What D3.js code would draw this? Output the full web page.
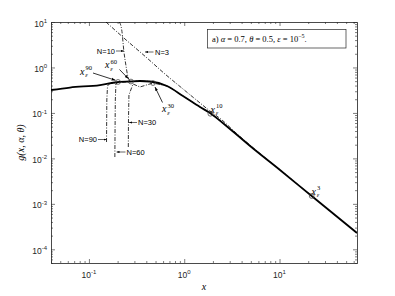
<!DOCTYPE html>
<html>
<head>
<meta charset="utf-8">
<script src="https://cdn.jsdelivr.net/npm/d3@7"></script>
<style>
  body { margin: 0; background: #fff; }
  svg { display: block; }
  .tick text { display: none; }
  .domain { stroke: #262626; stroke-width: 0.6; }
  .tick line { stroke: #262626; stroke-width: 0.6; }
</style>
</head>
<body>
<div id="chart"></div>
<script>
// exact g(x, alpha, theta)
const gX = [0.04, 0.0633, 0.1306, 0.1877, 0.270, 0.343, 0.437, 0.659, 0.970, 1.464, 1.863, 3.02, 5.53, 10.11, 21.75, 65];
const gY = [0.319, 0.362, 0.411, 0.467, 0.491, 0.504, 0.491, 0.391, 0.236, 0.135, 0.0996, 0.0443, 0.01528, 0.00555, 0.001486, 0.000229];

// truncated series with N terms
const n3X = [0.151, 0.239, 0.407, 0.628, 0.903, 1.362, 1.863, 2.49, 3.41, 5.53, 10.11, 21.75, 65];
const n3Y = [10, 4.23, 1.615, 0.718, 0.381, 0.1875, 0.110, 0.0699, 0.038, 0.0158, 0.00562, 0.001486, 0.000229];
const n10X = [0.2084, 0.221, 0.233, 0.245, 0.257, 0.276, 0.343, 0.437, 0.659, 0.970, 1.464, 1.863, 3.02];
const n10Y = [10, 6.67, 2.22, 1.077, 0.617, 0.49, 0.504, 0.491, 0.391, 0.236, 0.135, 0.0996, 0.0443];
const n30X = [0.259, 0.260, 0.263, 0.290, 0.343, 0.470, 0.659];
const n30Y = [0.0178, 0.0699, 0.248, 0.433, 0.372, 0.455, 0.391];
const n60X = [0.1871, 0.188, 0.1892, 0.192, 0.202, 0.276, 0.343];
const n60Y = [0.01072, 0.0421, 0.192, 0.433, 0.475, 0.49, 0.504];
const n90X = [0.153, 0.1541, 0.1567, 0.165, 0.202, 0.276];
const n90Y = [0.0229, 0.192, 0.391, 0.44, 0.475, 0.49];

// x_eps^N markers
const epsN = ['90', '60', '30', '10', '3'];
const epsX = [0.202, 0.276, 0.470, 1.88, 21.75];
const epsY = [0.48, 0.49, 0.455, 0.096, 0.00149];

const xMajor = [0.1, 1, 10];
const xMajorExp = ['-1', '0', '1'];
const yMajor = [1e-4, 1e-3, 1e-2, 1e-1, 1, 10];
const yMajorExp = ['-4', '-3', '-2', '-1', '0', '1'];

const width = 395, height = 296;
const margin = {top: 22, right: 38, bottom: 33, left: 51};

const svg = d3.select('#chart').append('svg')
  .attr('width', width)
  .attr('height', height);

const x = d3.scaleLog().domain([0.04, 65]).range([margin.left, width - margin.right]);
const y = d3.scaleLog().domain([5e-5, 10]).range([height - margin.bottom, margin.top]);

function minors(lo, hi) {
  const out = [];
  for (let e = Math.floor(Math.log10(lo)); e <= Math.ceil(Math.log10(hi)); e++) {
    for (let k = 2; k <= 9; k++) {
      const v = k * Math.pow(10, e);
      if (v >= lo * 0.999 && v <= hi * 1.001) out.push(v);
    }
  }
  return out;
}
const xMinor = minors(0.04, 65);
const yMinor = minors(5e-5, 10);

const x0 = margin.left, x1 = width - margin.right;
const y0 = height - margin.bottom, y1 = margin.top;

// axes, ticks inward on all four sides
svg.append('g').attr('transform', `translate(0,${y0})`)
  .call(d3.axisBottom(x).tickValues(xMajor).tickSize(-4).tickSizeOuter(0));
svg.append('g').attr('transform', `translate(0,${y0})`)
  .call(d3.axisBottom(x).tickValues(xMinor).tickSize(-2).tickSizeOuter(0));
svg.append('g').attr('transform', `translate(0,${y1})`)
  .call(d3.axisTop(x).tickValues(xMajor).tickSize(-4).tickSizeOuter(0));
svg.append('g').attr('transform', `translate(0,${y1})`)
  .call(d3.axisTop(x).tickValues(xMinor).tickSize(-2).tickSizeOuter(0));
svg.append('g').attr('transform', `translate(${x0},0)`)
  .call(d3.axisLeft(y).tickValues(yMajor).tickSize(-4).tickSizeOuter(0));
svg.append('g').attr('transform', `translate(${x0},0)`)
  .call(d3.axisLeft(y).tickValues(yMinor).tickSize(-2).tickSizeOuter(0));
svg.append('g').attr('transform', `translate(${x1},0)`)
  .call(d3.axisRight(y).tickValues(yMajor).tickSize(-4).tickSizeOuter(0));
svg.append('g').attr('transform', `translate(${x1},0)`)
  .call(d3.axisRight(y).tickValues(yMinor).tickSize(-2).tickSizeOuter(0));

// tick labels 10^n
const tickFont = 'Liberation Sans, Arial, sans-serif';
xMajor.forEach((v, i) => {
  const t = svg.append('text')
    .attr('x', x(v)).attr('y', y0 + 14.5)
    .attr('text-anchor', 'middle')
    .attr('font-family', tickFont).attr('font-size', 8.5).attr('fill', '#262626');
  t.append('tspan').text('10');
  t.append('tspan').attr('dy', -3.5).attr('font-size', 6).text(xMajorExp[i]);
});
yMajor.forEach((v, i) => {
  const t = svg.append('text')
    .attr('x', x0 - 4).attr('y', y(v) + 4.5)
    .attr('text-anchor', 'end')
    .attr('font-family', tickFont).attr('font-size', 8.5).attr('fill', '#262626');
  t.append('tspan').text('10');
  t.append('tspan').attr('dy', -3.5).attr('font-size', 6).text(yMajorExp[i]);
});

// axis titles
const serif = 'Liberation Serif, Times New Roman, serif';
svg.append('text')
  .attr('x', (x0 + x1) / 2).attr('y', 290)
  .attr('text-anchor', 'middle')
  .attr('font-family', serif).attr('font-style', 'italic').attr('font-size', 10)
  .text('x');
svg.append('text')
  .attr('transform', `translate(24,${(y0 + y1) / 2}) rotate(-90)`)
  .attr('text-anchor', 'middle')
  .attr('font-family', serif).attr('font-style', 'italic').attr('font-size', 10)
  .text('g(x, α, θ)');

// curves
svg.append('clipPath').attr('id', 'clip')
  .append('rect').attr('x', x0).attr('y', y1).attr('width', x1 - x0).attr('height', y0 - y1);
const plot = svg.append('g').attr('clip-path', 'url(#clip)');

function pts(xs, ys) { return xs.map((d, i) => [d, ys[i]]); }
const lineSmooth = d3.line().x(d => x(d[0])).y(d => y(d[1])).curve(d3.curveMonotoneX);
const lineStraight = d3.line().x(d => x(d[0])).y(d => y(d[1]));

const dashDot = '4,1.5,1,1.5';
[[n3X, n3Y, lineSmooth], [n10X, n10Y, lineSmooth], [n30X, n30Y, lineStraight],
 [n60X, n60Y, lineStraight], [n90X, n90Y, lineStraight]].forEach(([xs, ys, ln]) => {
  plot.append('path')
    .attr('d', ln(pts(xs, ys)))
    .attr('fill', 'none').attr('stroke', '#000').attr('stroke-width', 0.8)
    .attr('stroke-dasharray', dashDot);
});

plot.append('path')
  .attr('d', lineSmooth(pts(gX, gY)))
  .attr('fill', 'none').attr('stroke', '#000').attr('stroke-width', 1.8);

// markers
epsX.forEach((v, i) => {
  plot.append('circle')
    .attr('cx', x(v)).attr('cy', y(epsY[i])).attr('r', 2.4)
    .attr('fill', 'none').attr('stroke', '#333').attr('stroke-width', 0.7);
});

// arrowheads
svg.append('defs').append('marker')
  .attr('id', 'ah').attr('viewBox', '0 0 10 10').attr('refX', 10).attr('refY', 5)
  .attr('markerWidth', 5).attr('markerHeight', 5).attr('orient', 'auto')
  .append('path').attr('d', 'M0,1.5 L10,5 L0,8.5 Z').attr('fill', '#000');

function arrow(xa, ya, xb, yb, w) {
  svg.append('line')
    .attr('x1', xa).attr('y1', ya).attr('x2', xb).attr('y2', yb)
    .attr('stroke', '#000').attr('stroke-width', w || 0.6)
    .attr('marker-end', 'url(#ah)');
}

// N labels
const nLabels = [
  {t: 'N=10', x: 115, y: 53.5, anchor: 'end', ax: [116, 51, 124, 51]},
  {t: 'N=3', x: 155, y: 54.5, anchor: 'start', ax: [153.5, 52, 145, 52]},
  {t: 'N=30', x: 138, y: 125, anchor: 'start', ax: [137, 122.5, 129, 122.5]},
  {t: 'N=60', x: 126.5, y: 154.5, anchor: 'start', ax: [125.5, 152, 116.5, 152]},
  {t: 'N=90', x: 97, y: 142, anchor: 'end', ax: [98, 139.5, 106.5, 139.5]}
];
nLabels.forEach(l => {
  svg.append('text')
    .attr('x', l.x).attr('y', l.y).attr('text-anchor', l.anchor)
    .attr('font-family', tickFont).attr('font-size', 7.5).attr('fill', '#000')
    .text(l.t);
  arrow(l.ax[0], l.ax[1], l.ax[2], l.ax[3], 0.6);
});

// x_eps^N labels
const epsPos = [[80, 74.5], [105, 68], [162, 112], [210.5, 112.5], [311.5, 194.5]];
epsN.forEach((n, i) => {
  const [lx, ly] = epsPos[i];
  const g = svg.append('g').attr('font-family', serif).attr('fill', '#000');
  g.append('text').attr('x', lx).attr('y', ly).attr('font-style', 'italic').attr('font-size', 10).text('x');
  g.append('text').attr('x', lx + 5.2).attr('y', ly + 2.6).attr('font-style', 'italic').attr('font-size', 6.5).text('ε');
  g.append('text').attr('x', lx + 5.6).attr('y', ly - 4.2).attr('font-size', 6.5).text(n);
});
arrow(93, 73, 115.5, 80.3, 0.8);
arrow(119.5, 69.5, 128.5, 78.8, 0.8);
arrow(162.5, 102.5, 155, 87, 0.8);

// parameter box
svg.append('rect')
  .attr('x', 207.5).attr('y', 29.5).attr('width', 138.5).attr('height', 18.5)
  .attr('fill', '#fff').attr('stroke', '#262626').attr('stroke-width', 0.7);
const info = svg.append('text')
  .attr('x', 212).attr('y', 41.5)
  .attr('font-family', serif).attr('font-size', 8.5).attr('fill', '#000');
info.append('tspan').text('a) ');
info.append('tspan').attr('font-style', 'italic').text('α');
info.append('tspan').text(' = 0.7,  ');
info.append('tspan').attr('font-style', 'italic').text('θ');
info.append('tspan').text(' = 0.5,  ');
info.append('tspan').attr('font-style', 'italic').text('ε');
info.append('tspan').text(' = 10');
info.append('tspan').attr('dy', -3.5).attr('font-size', 6).text('−5');
info.append('tspan').attr('dy', 3.5).text('.');
</script>
</body>
</html>
